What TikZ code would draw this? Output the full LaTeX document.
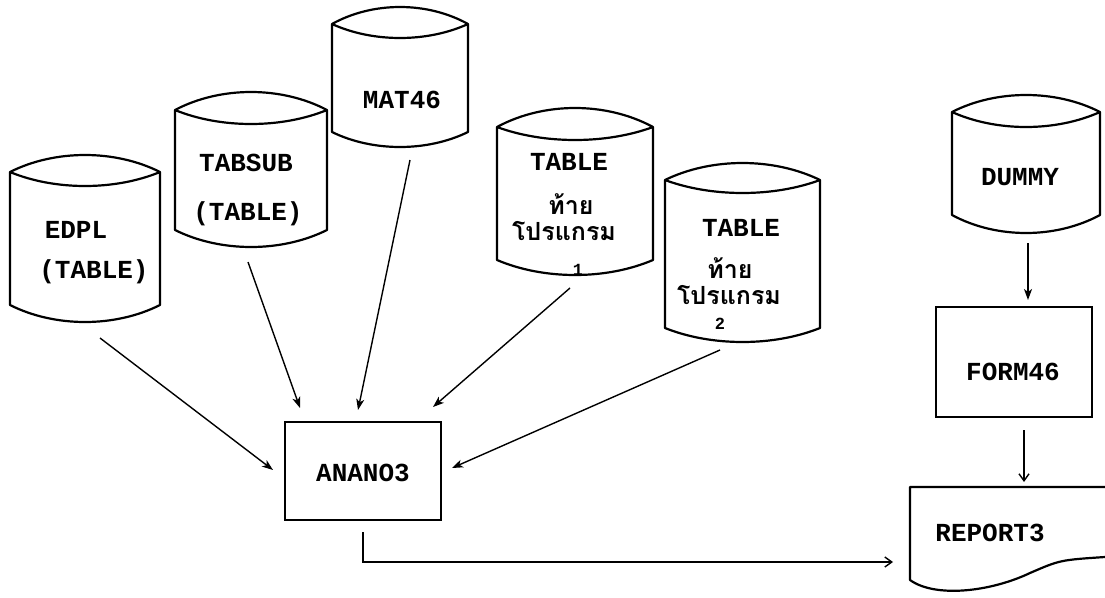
\documentclass[tikz,border=0pt]{standalone}
\usepackage{fontspec}
\setmonofont{Liberation Mono}
\newfontfamily\thaifont[Script=Thai]{Loma}
\usetikzlibrary{arrows.meta}
\tikzset{
  cylline/.style={line width=2.2pt, line join=round},
  boxline/.style={draw, line width=2pt},
  lbl/.style={font=\fontsize{26}{30}\selectfont\ttfamily\bfseries, inner sep=0pt, anchor=base},
  thl/.style={font=\fontsize{25}{27}\selectfont\thaifont\bfseries, inner sep=0pt, anchor=base},
  dig/.style={font=\fontsize{17}{18}\selectfont\ttfamily\bfseries, inner sep=0pt, anchor=base},
  arr/.style={line width=1.4pt, -{Stealth[length=11pt,width=8pt,inset=3pt]}},
  arrb/.style={line width=1.4pt, -{Straight Barb[length=7pt,width=10pt]}}
}
% #1 x0, #2 x1, #3 ytop, #4 ycorner, #5 yrim, #6 ybot, #7 ylow
\newcommand\dbcyl[7]{%
  \draw[cylline] (#1,#4)
    .. controls ({#1+0.3*(#2-#1)},{#4+(#3-#4)*4/3}) and ({#2-0.3*(#2-#1)},{#4+(#3-#4)*4/3}) .. (#2,#4)
    .. controls ({#2-0.3*(#2-#1)},{#4+(#5-#4)*4/3}) and ({#1+0.3*(#2-#1)},{#4+(#5-#4)*4/3}) .. (#1,#4)
    -- (#1,#6)
    .. controls ({#1+0.3*(#2-#1)},{#6+(#7-#6)*4/3}) and ({#2-0.3*(#2-#1)},{#6+(#7-#6)*4/3}) .. (#2,#6)
    -- (#2,#4);}
\begin{document}
\begin{tikzpicture}[x=1pt,y=-1pt]
\useasboundingbox (0,0) rectangle (1105,597);
% cylinders
\dbcyl{10}{160}{155}{172}{186}{305}{322}
\dbcyl{175}{327}{92}{110}{124}{230}{247}
\dbcyl{332}{468}{7}{24}{38}{132}{147}
\dbcyl{497}{653}{108}{127}{140}{260}{275}
\dbcyl{665}{820}{163}{180}{193}{328}{342}
\dbcyl{952}{1100}{95}{112}{127}{215}{233}
% cylinder texts
\node[lbl] (edpl) at (76,238) {EDPL};
\node[lbl] (edplb) at (94,278) {(TABLE)};
\node[lbl] (tabsub) at (246,171) {TABSUB};
\node[lbl] (tabsubb) at (248,220) {(TABLE)};
\node[lbl] (mat) at (402,108) {MAT46};
\node[lbl] (ta) at (569,170) {TABLE};
\node[thl] (taa) at (571,214) {ท้าย};
\node[thl] (tab) at (564,240) {โปรแกรม};
\node[dig] (tac) at (578,275) {1};
\node[lbl] (tb) at (741,236) {TABLE};
\node[thl] (tba) at (730,278) {ท้าย};
\node[thl] (tbb) at (729,304) {โปรแกรม};
\node[dig] (tbc) at (720,329) {2};
\node[lbl] (dummy) at (1020,185) {DUMMY};
% boxes
\node[boxline, minimum width=156pt, minimum height=110pt, inner sep=0pt] (form) at (1014,362) {};
\node[lbl] (formt) at (1013,380) {FORM46};
\node[boxline, minimum width=156pt, minimum height=98pt, inner sep=0pt] (anano) at (363,471) {};
\node[lbl] (ananot) at (363,481) {ANANO3};
% report document
\draw[cylline] (1105,487) -- (910,487) -- (910,580)
  .. controls (935,598) and (990,592) .. (1030,573)
  .. controls (1060,560) .. (1105,557);
\node[lbl] (report) at (990,541) {REPORT3};
% connector end points
\coordinate (s1) at (100,338); \coordinate (t1) at (273,470);
\coordinate (s2) at (248,262); \coordinate (t2) at (300,408);
\coordinate (s3) at (410,160); \coordinate (t3) at (358,410);
\coordinate (s4) at (570,288); \coordinate (t4) at (433,407);
\coordinate (s5) at (720,350); \coordinate (t5) at (452,468);
\coordinate (s6) at (1028,243); \coordinate (t6) at (1028,300);
\coordinate (s7) at (1024,430); \coordinate (t7) at (1024,482);
\coordinate (s8) at (363,532); \coordinate (t8) at (893,562);
\draw[arr] (s1) -- (t1);
\draw[arr] (s2) -- (t2);
\draw[arr] (s3) -- (t3);
\draw[arr] (s4) -- (t4);
\draw[arr] (s5) -- (t5);
\draw[arr] (s6) -- (t6);
\draw[arrb] (s7) -- (t7);
\draw[arrb] (s8) |- (t8);
\end{tikzpicture}
\end{document}
